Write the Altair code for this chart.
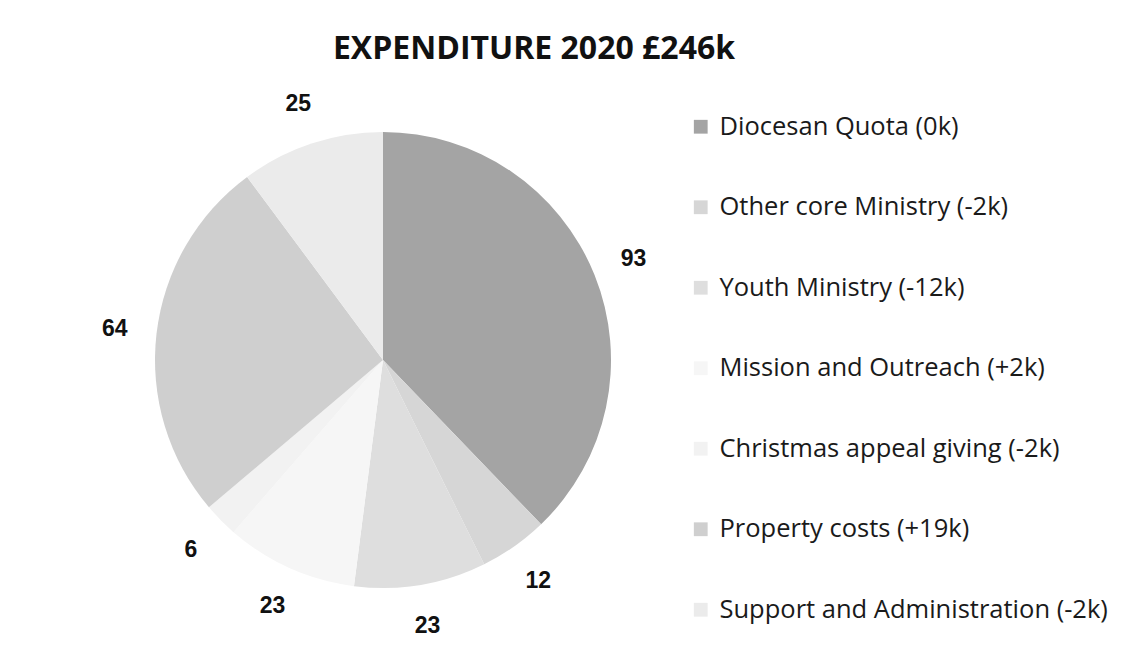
import altair as alt
import pandas as pd

categories = [
    "Diocesan Quota (0k)",
    "Other core Ministry (-2k)",
    "Youth Ministry (-12k)",
    "Mission and Outreach (+2k)",
    "Christmas appeal giving (-2k)",
    "Property costs (+19k)",
    "Support and Administration (-2k)",
]
values = [93, 12, 23, 23, 6, 64, 25]
colors = ["#a4a4a4", "#d6d6d6", "#dedede", "#f6f6f6", "#f2f2f2", "#cfcfcf", "#ebebeb"]
title_text = "EXPENDITURE 2020 £246k"

df = pd.DataFrame({"cat": categories, "val": values, "idx": list(range(len(values)))})

cx, cy = 375, 352

base = alt.Chart(df).encode(
    theta=alt.Theta("val:Q", stack=True),
    order=alt.Order("idx:Q"),
)

pie = base.mark_arc(outerRadius=228).encode(
    x=alt.value(cx),
    y=alt.value(cy),
    color=alt.Color(
        "cat:N",
        scale=alt.Scale(domain=categories, range=colors),
        sort=categories,
        legend=alt.Legend(
            title=None,
            orient="none",
            legendX=680,
            legendY=106,
            symbolType="square",
            symbolSize=190,
            symbolStrokeWidth=0,
            labelFont="Open Sans",
            labelFontSize=25.5,
            labelColor="#1a1a1a",
            rowPadding=53.5,
            labelOffset=6,
            labelLimit=500,
        ),
    ),
)

labels = base.mark_text(
    radius=270, font="Liberation Sans", fontWeight="bold", fontSize=23, color="#111111"
).encode(
    x=alt.value(cx),
    y=alt.value(cy),
    text=alt.Text("val:Q"),
)

title = alt.Chart(pd.DataFrame({"t": [title_text]})).mark_text(
    font="Open Sans", fontWeight="bold", fontSize=32, color="#111111"
).encode(x=alt.value(526), y=alt.value(41), text="t:N")

chart = (
    alt.layer(pie, labels, title)
    .properties(width=1117, height=629, padding=0, autosize=alt.AutoSizeParams(type="none"))
    .configure_view(stroke=None)
)

chart.save("out.html", embed_options={"renderer": "svg", "actions": False})
